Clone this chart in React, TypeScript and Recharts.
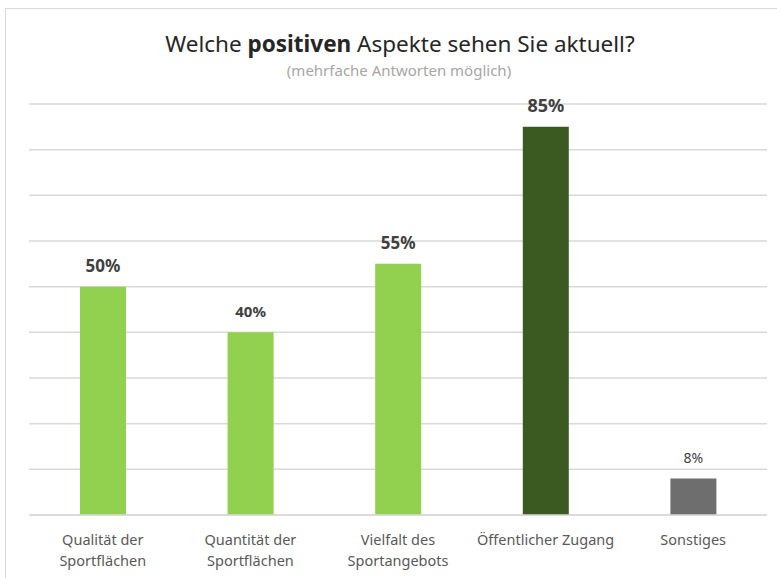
import React from "react";
import { BarChart, Bar, XAxis, YAxis, CartesianGrid, LabelList, Cell } from "recharts";

const categories = [
  "Qualität der|Sportflächen",
  "Quantität der|Sportflächen",
  "Vielfalt des|Sportangebots",
  "Öffentlicher Zugang",
  "Sonstiges",
];
const values = [50, 40, 55, 85, 8];
const yTicks = [0, 10, 20, 30, 40, 50, 60, 70, 80, 90];

const barColors = ["#92D050", "#92D050", "#92D050", "#3A5A22", "#6E6E6E"];
const labelStyles = [
  { size: 17, weight: 700 },
  { size: 15, weight: 700 },
  { size: 17, weight: 700 },
  { size: 18, weight: 700 },
  { size: 14, weight: 400 },
];

const data = categories.map((c, i) => ({ name: c, value: values[i] }));

const FONT = "'Noto Sans', 'Open Sans', sans-serif";

const Tick = (props: any) => {
  const { x, y, payload } = props;
  const lines = String(payload.value).split("|");
  return (
    <text x={x} y={y} textAnchor="middle" fill="#595959" fontFamily={FONT} fontSize={14.5}>
      {lines.map((l, i) => (
        <tspan key={i} x={x} dy={i === 0 ? 22 : 21}>
          {l}
        </tspan>
      ))}
    </text>
  );
};

const ValueLabel = (props: any) => {
  const { x, y, width, value, index } = props;
  const st = labelStyles[index] || labelStyles[0];
  return (
    <text
      x={x + width / 2}
      y={y - 15}
      textAnchor="middle"
      fill="#404040"
      fontFamily={FONT}
      fontSize={st.size}
      fontWeight={st.weight}
    >
      {value}%
    </text>
  );
};

export default function App() {
  return (
    <div style={{ position: "absolute", left: 0, top: 0, width: 777, height: 578, background: "#fff", overflow: "hidden" }}>
      <div
        style={{
          position: "absolute",
          left: 5,
          top: 8,
          width: 780,
          height: 600,
          border: "1px solid #d9d9d9",
          boxSizing: "border-box",
        }}
      />
      <div
        style={{
          position: "absolute",
          left: 0,
          width: 800,
          top: 30,
          textAlign: "center",
          fontFamily: FONT,
          fontSize: 22.5,
          color: "#262626",
          lineHeight: "28px",
        }}
      >
        Welche <b>positiven</b> Aspekte sehen Sie aktuell?
      </div>
      <div
        style={{
          position: "absolute",
          left: 0,
          width: 798,
          top: 60,
          textAlign: "center",
          fontFamily: FONT,
          fontSize: 15,
          color: "#a6a6a6",
          lineHeight: "20px",
        }}
      >
        (mehrfache Antworten möglich)
      </div>
      <div style={{ position: "absolute", left: 0, top: 0 }}>
        <BarChart
          width={777}
          height={578}
          data={data}
          margin={{ top: 104, right: 10, left: 29, bottom: 13 }}
          barSize={46}
        >
          <CartesianGrid horizontal vertical={false} stroke="#d9d9d9" strokeWidth={1.5} />
          <YAxis hide domain={[0, 90]} ticks={yTicks} width={0} />
          <XAxis
            dataKey="name"
            axisLine={{ stroke: "#d9d9d9", strokeWidth: 1.5 }}
            tickLine={false}
            height={50}
            interval={0}
            tick={<Tick />}
          />
          <Bar dataKey="value" isAnimationActive={false}>
            {data.map((_, i) => (
              <Cell key={i} fill={barColors[i]} />
            ))}
            <LabelList dataKey="value" content={<ValueLabel />} />
          </Bar>
        </BarChart>
      </div>
    </div>
  );
}
